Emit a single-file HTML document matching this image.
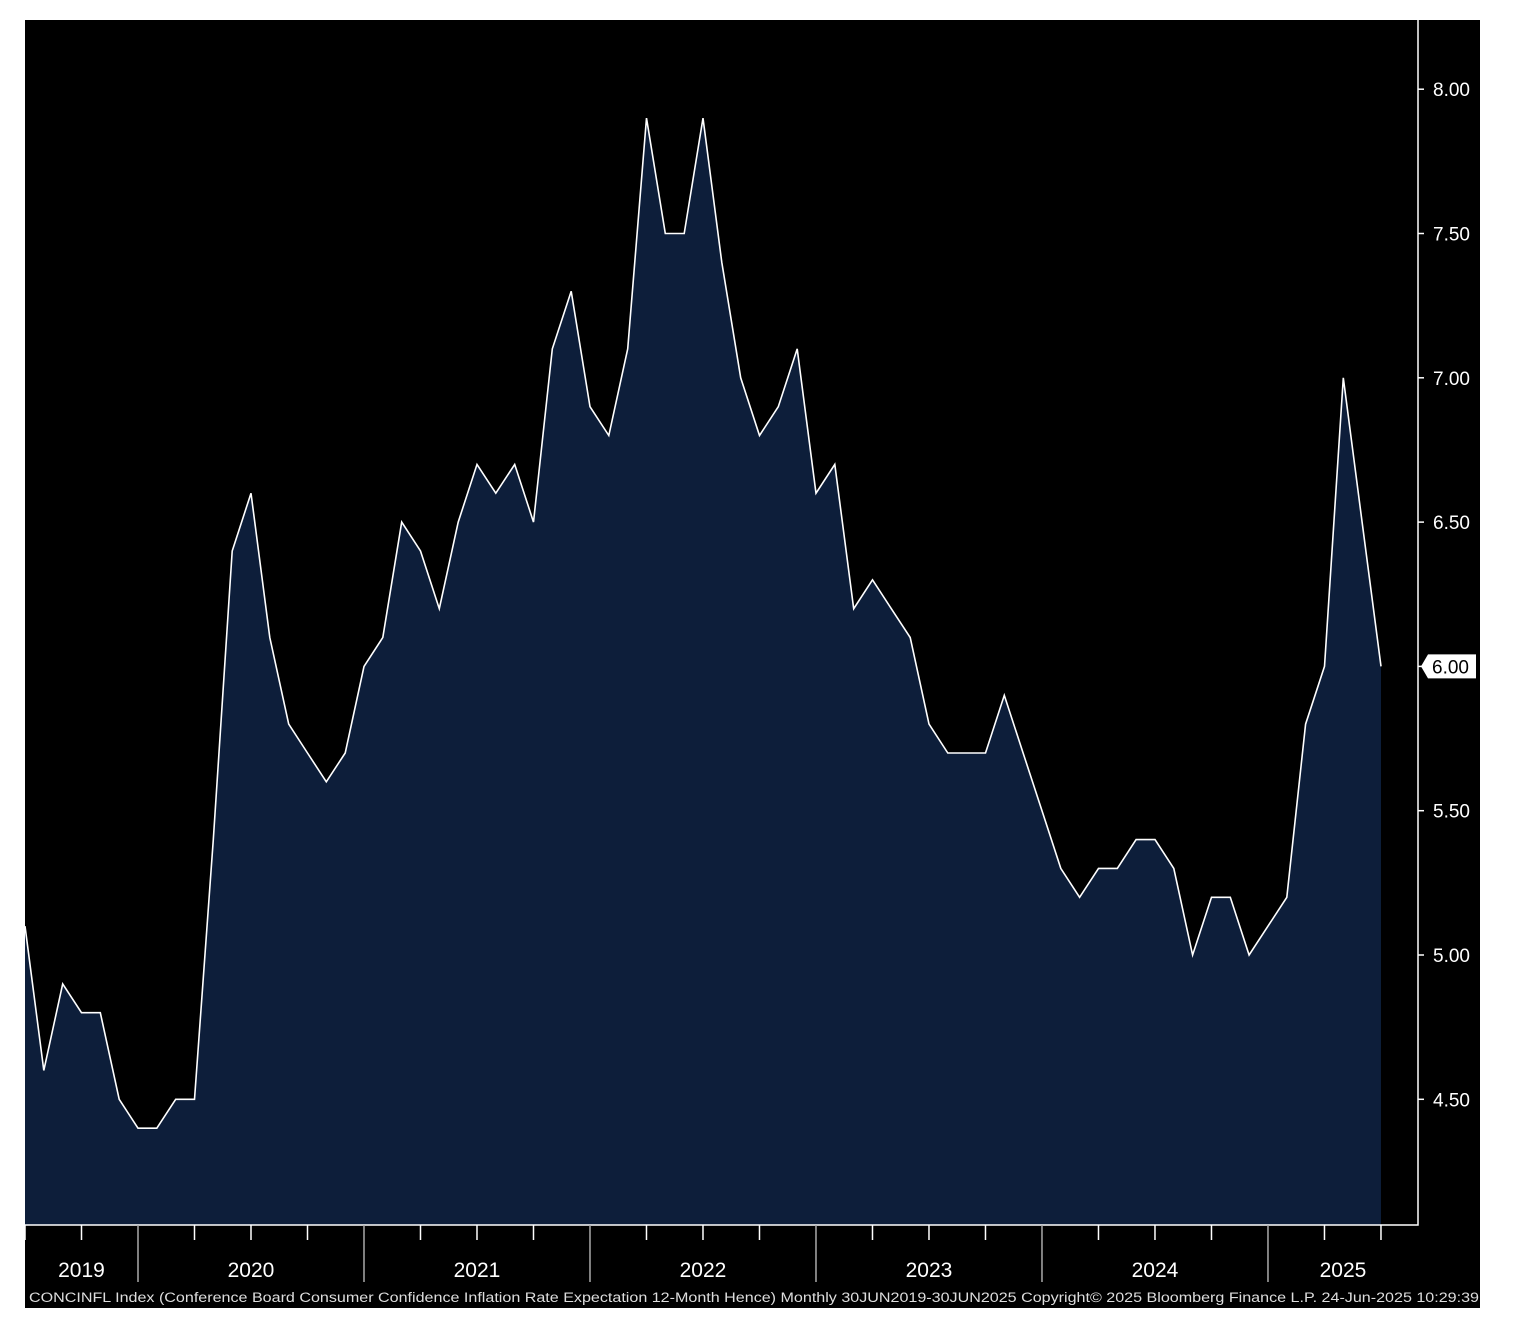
<!DOCTYPE html>
<html><head><meta charset="utf-8"><style>
html,body{margin:0;padding:0;background:#fff;width:1514px;height:1326px;overflow:hidden}
svg{position:absolute;left:0;top:0}
text{font-family:"Liberation Sans","DejaVu Sans",sans-serif}
</style></head><body>
<svg id="c" width="1514" height="1326"></svg>
<script>
const yearLabels=["2019","2020","2021","2022","2023","2024","2025"];
const yTicks=[4.5,5.0,5.5,6.0,6.5,7.0,7.5,8.0];
const values=[5.1,4.6,4.9,4.8,4.8,4.5,4.4,4.4,4.5,4.5,5.4,6.4,6.6,6.1,5.8,5.7,5.6,5.7,6.0,6.1,6.5,6.4,6.2,6.5,6.7,6.6,6.7,6.5,7.1,7.3,6.9,6.8,7.1,7.9,7.5,7.5,7.9,7.4,7.0,6.8,6.9,7.1,6.6,6.7,6.2,6.3,6.2,6.1,5.8,5.7,5.7,5.7,5.9,5.7,5.5,5.3,5.2,5.3,5.3,5.4,5.4,5.3,5.0,5.2,5.2,5.0,5.1,5.2,5.8,6.0,7.0,6.5,6.0];
const NS="http://www.w3.org/2000/svg";
const svg=document.getElementById('c');
function el(t,a,p){const e=document.createElementNS(NS,t);for(const k in a)e.setAttribute(k,a[k]);(p||svg).appendChild(e);return e;}
const X0=25,STEP=18.833,PB=1225,PR=1418,PT=20;
const x=i=>X0+i*STEP;
const y=v=>955-(v-5)*288.6;
let bg=el('rect',{x:25,y:20,width:1455,height:1288,fill:'#000'});


let pts=values.map((v,i)=>x(i).toFixed(1)+','+y(v).toFixed(1));
let area=el('polygon',{points:x(0)+','+PB+' '+pts.join(' ')+' '+x(values.length-1)+','+PB,fill:'#0d1e3a'});


let line=el('polyline',{points:pts.join(' '),fill:'none',stroke:'#fff','stroke-width':1.6});


let fr=el('path',{d:`M${X0} ${PB}H${PR}V${PT}`,fill:'none',stroke:'#fff','stroke-width':1.5});


yTicks.forEach(v=>{
  const yy=y(v);
  let t=el('line',{x1:PR,x2:PR+6,y1:yy,y2:yy,stroke:'#fff','stroke-width':1.5});
  
  
  let tx=el('text',{x:1433,y:yy+7,fill:'#fff','font-size':19});
  tx.textContent=v.toFixed(2);
  
  
});
const lv=values[values.length-1],ly=y(lv);
let mk=el('path',{d:`M1421 ${ly}L1428 ${ly-12}H1476V${ly+12}H1428Z`,fill:'#fff'});


let mt=el('text',{x:1432,y:ly+7,fill:'#000','font-size':19});
mt.textContent=lv.toFixed(2);


for(let i=0;i<values.length;i++){
  if(i%3!==0)continue;
  const isYear=(i-6)%12===0;
  let t=el('line',{x1:x(i),x2:x(i),y1:PB,y2:isYear?1282:1240,stroke:isYear?'#aaa':'#fff','stroke-width':1.5});
  
  
}
yearLabels.forEach((lab,k)=>{
  const s=k===0?0:6+(k-1)*12;
  const xs=x(s), xe=k===yearLabels.length-1?PR:x(6+k*12);
  let tx=el('text',{x:(xs+xe)/2,y:1277,fill:'#fff','font-size':21,'text-anchor':'middle'});
  tx.textContent=lab;
  
  
});
let ft=el('text',{x:29,y:1302,fill:'#ddd','font-size':14.2,textLength:1450,lengthAdjust:'spacingAndGlyphs'});
ft.textContent="CONCINFL Index (Conference Board Consumer Confidence Inflation Rate Expectation 12-Month Hence)  Monthly 30JUN2019-30JUN2025    Copyright\u00a9 2025 Bloomberg Finance L.P.    24-Jun-2025 10:29:39";


</script>
</body></html>
